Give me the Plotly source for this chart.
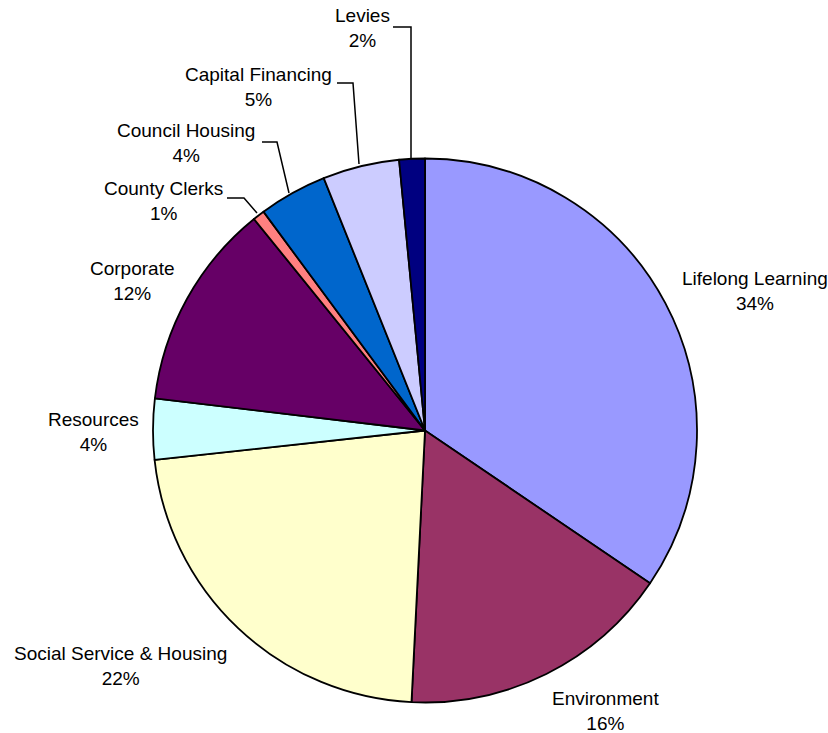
import plotly.graph_objects as go

W, H = 828, 733

categories = ["Lifelong Learning", "Environment", "Social Service & Housing", "Resources",
              "Corporate", "County Clerks", "Council Housing", "Capital Financing", "Levies"]
values = [34.49, 16.3, 22.49, 3.6, 12.3, 0.7, 4.05, 4.55, 1.52]
colors = ["#9999FF", "#993366", "#FFFFCC", "#CCFFFF", "#660066", "#FF8080",
          "#0066CC", "#CCCCFF", "#000080"]

# label block centres (pixels) and leader lines (pixels)
label_pos = [(755, 291), (605, 711), (120, 666), (93, 432), (132, 281),
             (163, 201), (186, 143), (258, 87), (362, 28)]
leaders = {
    "Levies": [(393, 27), (411, 27), (411, 158)],
    "Capital Financing": [(337, 83), (353, 83), (359, 164)],
    "Council Housing": [(262, 142), (277, 142), (289, 193)],
    "County Clerks": [(227, 198), (244, 198), (257, 213)],
}

cx, cy, r = 425, 430.5, 272

fig = go.Figure(go.Pie(
    labels=categories, values=values, sort=False, direction="clockwise", rotation=0,
    marker=dict(colors=colors, line=dict(color="black", width=1.8)),
    textinfo="none", hoverinfo="label+percent", showlegend=False,
    domain=dict(x=[(cx - r) / W, (cx + r) / W], y=[1 - (cy + r) / H, 1 - (cy - r) / H]),
))

total = sum(values)
for name, v, (px, py) in zip(categories, values, label_pos):
    fig.add_annotation(
        x=px / W, y=1 - py / H, xref="paper", yref="paper",
        text=f"{name}<br>{round(v / total * 100)}%", showarrow=False,
        xanchor="center", yanchor="middle", align="center",
        font=dict(family="Liberation Sans, Arial, sans-serif", size=19, color="black"),
    )

for name, pts in leaders.items():
    path = "M " + " L ".join(f"{x / W},{1 - y / H}" for x, y in pts)
    fig.add_shape(type="path", path=path, xref="paper", yref="paper",
                  line=dict(color="black", width=1.5))

fig.update_layout(width=W, height=H, margin=dict(l=0, r=0, t=0, b=0),
                  paper_bgcolor="white", plot_bgcolor="white")

fig.write_html("out.html", config={"displayModeBar": False},
               post_script="document.body.style.margin='0';document.body.style.overflow='hidden';")
